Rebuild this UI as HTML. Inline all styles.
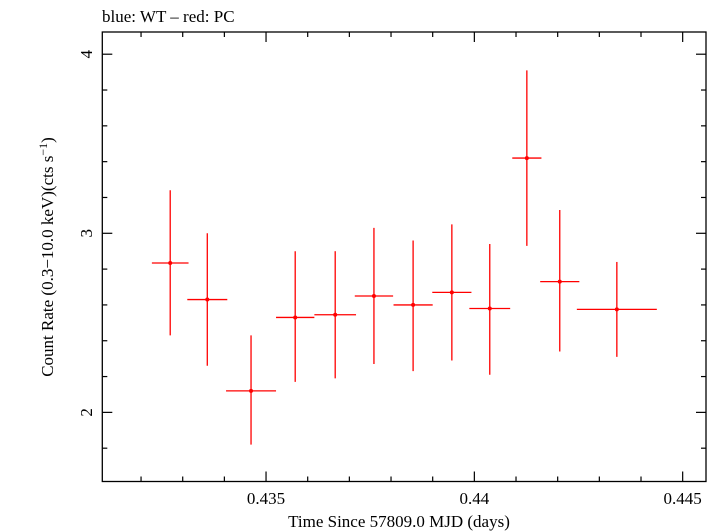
<!DOCTYPE html>
<html><head><meta charset="utf-8"><style>
body{margin:0;background:#fff;width:720px;height:532px;overflow:hidden}
svg{display:block;font-family:"Liberation Serif",serif}
</style></head><body>
<svg id="chart" width="720" height="532" viewBox="0 0 720 532">
<text x="102" y="22" font-size="17">blue: WT – red: PC</text>
<rect x="102.3" y="32" width="603.7" height="449.5" fill="none" stroke="#000" stroke-width="1.3"/>
<g id="axes"></g>
<g id="marks"></g>
<text x="399" y="527" font-size="17" text-anchor="middle">Time Since 57809.0 MJD (days)</text>
<text transform="translate(53,257) rotate(-90)" font-size="17" text-anchor="middle">Count Rate (0.3−10.0 keV)(cts s<tspan font-size="12" dy="-6">−1</tspan><tspan dy="6">)</tspan></text>
</svg>
<script>
const times=[0.43270,0.43359,0.43464,0.43570,0.43666,0.43759,0.43853,0.43946,0.44037,0.44126,0.44205,0.44342];
const timeErr=[0.00044,0.00048,0.00060,0.00046,0.00050,0.00046,0.00047,0.00047,0.00049,0.00035,0.00047,0.00096];
const rates=[2.834,2.63,2.12,2.53,2.545,2.65,2.60,2.67,2.58,3.42,2.73,2.575];
const rateHi=[3.24,3.00,2.43,2.90,2.90,3.03,2.96,3.05,2.94,3.91,3.13,2.84];
const rateLo=[2.43,2.26,1.82,2.17,2.19,2.27,2.23,2.29,2.21,2.93,2.34,2.31];
const xTickLabels=["0.435","0.44","0.445"];
const yTickLabels=["2","3","4"];
const L=102.3,R=706,T=32,B=481.5;
const X0=0.43107,X1=0.44556,Y0=1.614,Y1=4.124;
function sx(t){return L+(t-X0)/(X1-X0)*(R-L);}
function sy(v){return B-(v-Y0)/(Y1-Y0)*(B-T);}
const NS="http://www.w3.org/2000/svg";
function mk(tag,attrs,parent){const e=document.createElementNS(NS,tag);for(const k in attrs)e.setAttribute(k,attrs[k]);parent.appendChild(e);return e;}
const ax=document.getElementById('axes'),mg=document.getElementById('marks');
// x ticks
for(let i=-3;i<=10;i++){const t=0.435+i*0.001;if(t<X0||t>X1)continue;const x=sx(t);const major=(i%5===0);const len=major?10:5;
 const a=mk('line',{x1:x,x2:x,y1:B,y2:B-len,stroke:'#000','stroke-width':1.2},ax);
 
 
 const b=mk('line',{x1:x,x2:x,y1:T,y2:T+len,stroke:'#000','stroke-width':1.2},ax);
 
 }
xTickLabels.forEach(s=>{const tx=mk('text',{x:sx(parseFloat(s)),y:504,'font-size':17,'text-anchor':'middle'},ax);tx.textContent=s;
 
 });
// y ticks
for(let i=0;i<=12;i++){const v=1.6+i*0.2;if(v<Y0||v>Y1)continue;const y=sy(v);const major=Math.abs(v-Math.round(v))<1e-6;const len=major?10:5;
 const a=mk('line',{x1:L,x2:L+len,y1:y,y2:y,stroke:'#000','stroke-width':1.2},ax);
 
 
 const b=mk('line',{x1:R,x2:R-len,y1:y,y2:y,stroke:'#000','stroke-width':1.2},ax);
 
 }
yTickLabels.forEach(s=>{const y=sy(parseFloat(s));const tx=mk('text',{transform:`translate(92,${y}) rotate(-90)`,'font-size':17,'text-anchor':'middle'},ax);tx.textContent=s;
 
 });
// data
times.forEach((t,i)=>{const g=mk('g',{},mg);
 
 
 mk('line',{x1:sx(t-timeErr[i]),x2:sx(t+timeErr[i]),y1:sy(rates[i]),y2:sy(rates[i]),stroke:'#f00','stroke-width':1.3},g);
 mk('line',{x1:sx(t),x2:sx(t),y1:sy(rateHi[i]),y2:sy(rateLo[i]),stroke:'#f00','stroke-width':1.3},g);
 mk('circle',{cx:sx(t),cy:sy(rates[i]),r:2,fill:'#f00'},g);});
</script>
</body></html>
